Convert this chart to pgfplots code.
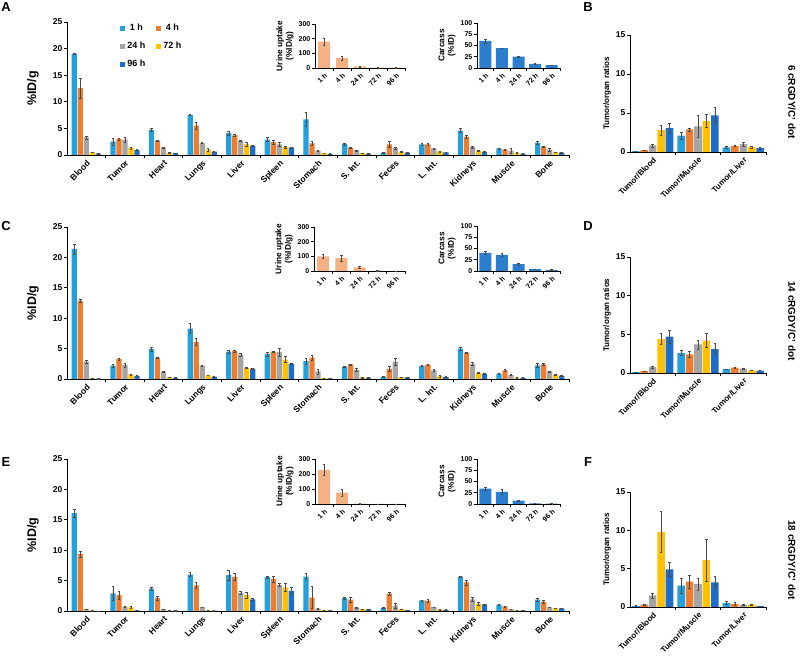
\documentclass[border=0pt]{standalone}
\usepackage{fontspec}
\setmainfont{Liberation Sans}
\usepackage{pgfplots}
\usepackage{pgfplotstable}
\pgfplotsset{compat=1.18}

\definecolor{c1}{RGB}{36,160,220}
\definecolor{c4}{RGB}{237,125,49}
\definecolor{c24}{RGB}{165,165,165}
\definecolor{c72}{RGB}{255,192,0}
\definecolor{c96}{RGB}{30,110,200}
\definecolor{urine}{RGB}{244,177,131}
\definecolor{carc}{RGB}{45,125,205}

\pgfplotstableread{
x t1 e1 t4 e4 t24 e24 t72 e72 t96 e96
0 19.0 0.1 12.6 1.9 3.3 0.3 0.5 0.05 0.25 0.05
1 2.5 0.6 3.0 0.2 2.9 0.5 1.3 0.2 0.9 0.2
2 4.7 0.3 2.7 0.1 1.4 0.1 0.4 0.05 0.35 0.05
3 7.5 0.1 5.5 0.7 2.3 0.1 1.0 0.2 0.65 0.05
4 4.1 0.3 3.7 0.2 2.6 0.1 2.0 0.4 1.7 0.1
5 2.9 0.4 2.4 0.3 2.0 0.4 1.5 0.2 1.4 0.1
6 6.7 1.3 2.2 0.3 0.8 0.1 0.35 0.05 0.2 0.05
7 2.1 0.2 1.3 0.1 0.85 0.1 0.3 0.05 0.2 0.05
8 0.45 0.1 2.0 0.5 1.3 0.2 0.55 0.1 0.45 0.05
9 2.0 0.15 2.0 0.2 1.25 0.1 0.7 0.1 0.5 0.05
10 4.6 0.4 3.45 0.2 1.5 0.15 0.8 0.1 0.6 0.05
11 1.25 0.1 1.05 0.1 0.8 0.4 0.4 0.05 0.25 0.05
12 2.3 0.2 1.55 0.1 1.0 0.2 0.5 0.05 0.45 0.05
}\tabA
\pgfplotstableread{
x t1 e1 t4 e4 t24 e24 t72 e72 t96 e96
0 21.4 0.8 12.9 0.3 2.85 0.3 0.1 0.02 0.05 0.02
1 2.2 0.2 3.3 0.2 2.3 0.3 0.75 0.1 0.5 0.1
2 4.9 0.3 3.45 0.1 1.15 0.1 0.3 0.05 0.2 0.05
3 8.3 0.8 6.1 0.6 2.2 0.1 0.6 0.05 0.4 0.05
4 4.5 0.2 4.6 0.2 4.0 0.3 1.8 0.1 1.7 0.1
5 4.1 0.3 4.5 0.1 4.4 0.6 3.2 0.5 2.5 0.1
6 2.95 0.5 3.5 0.4 1.25 0.4 0.15 0.05 0.1 0.05
7 2.0 0.1 2.4 0.1 1.5 0.2 0.25 0.05 0.2 0.05
8 0.35 0.05 1.65 0.4 2.8 0.6 0.3 0.05 0.25 0.05
9 2.15 0.1 2.35 0.1 1.4 0.2 0.45 0.1 0.35 0.05
10 5.0 0.2 4.35 0.1 2.5 0.2 1.0 0.1 0.9 0.1
11 0.9 0.1 1.4 0.2 0.65 0.1 0.2 0.05 0.2 0.05
12 2.25 0.3 2.4 0.2 1.25 0.1 0.65 0.1 0.5 0.05
}\tabC
\pgfplotstableread{
x t1 e1 t4 e4 t24 e24 t72 e72 t96 e96
0 16.1 0.7 9.35 0.5 0.3 0.05 0.05 0.02 0.03 0.01
1 2.9 1.1 2.6 0.6 0.7 0.1 0.6 0.2 0.1 0.02
2 3.7 0.2 2.1 0.3 0.3 0.05 0.05 0.02 0.05 0.02
3 6.0 0.3 4.2 0.5 0.65 0.05 0.1 0.02 0.05 0.02
4 5.9 0.8 5.6 0.6 3.0 0.2 2.6 0.5 1.9 0.2
5 5.6 0.2 5.3 0.5 4.3 0.2 3.9 0.7 3.3 0.6
6 5.65 0.5 2.2 1.8 0.4 0.05 0.15 0.02 0.1 0.02
7 2.1 0.1 1.85 0.4 0.55 0.05 0.3 0.05 0.25 0.05
8 0.5 0.05 2.85 0.2 0.9 0.4 0.3 0.05 0.15 0.02
9 1.75 0.1 1.7 0.2 0.65 0.05 0.25 0.05 0.2 0.05
10 5.65 0.1 4.7 0.4 1.9 0.3 1.2 0.2 1.1 0.1
11 1.05 0.1 0.75 0.1 0.3 0.05 0.1 0.02 0.1 0.02
12 1.85 0.3 1.55 0.3 0.6 0.05 0.45 0.05 0.45 0.05
}\tabE
\pgfplotstableread{
x t1 e1 t4 e4 t24 e24 t72 e72 t96 e96
0 0.1 0.02 0.25 0.03 0.85 0.2 2.8 0.6 3.1 0.6
1 2.1 0.5 2.9 0.2 3.3 1.4 4.0 0.8 4.7 1.1
2 0.6 0.1 0.8 0.05 1.0 0.2 0.65 0.1 0.5 0.1
}\tabB
\pgfplotstableread{
x t1 e1 t4 e4 t24 e24 t72 e72 t96 e96
0 0.1 0.02 0.25 0.03 0.75 0.15 4.4 0.7 4.7 0.8
1 2.6 0.3 2.4 0.4 3.7 0.6 4.2 0.9 3.1 0.7
2 0.5 0.05 0.7 0.05 0.55 0.05 0.35 0.05 0.3 0.05
}\tabD
\pgfplotstableread{
x t1 e1 t4 e4 t24 e24 t72 e72 t96 e96
0 0.15 0.02 0.3 0.03 1.5 0.3 9.8 2.7 4.9 0.9
1 2.8 1.0 3.3 0.8 3.0 0.8 6.1 2.8 3.2 0.8
2 0.55 0.2 0.4 0.2 0.25 0.05 0.3 0.05 0.1 0.02
}\tabF
\pgfplotstableread{
x y e
0 180 25
1 68 12
2 10 3
3 3 1
4 2 1
}\urA
\pgfplotstableread{
x y e
0 60 4
1 44 1
2 25 1.5
3 9 1
4 6.5 0.5
}\caA
\pgfplotstableread{
x y e
0 100 12
1 88 18
2 25 5
3 2 1
4 1 0.5
}\urC
\pgfplotstableread{
x y e
0 40 3
1 36 3
2 15 2
3 4 0.5
4 2.5 0.5
}\caC
\pgfplotstableread{
x y e
0 228 35
1 75 25
2 3 1
3 1 0.5
4 1 0.5
}\urE
\pgfplotstableread{
x y e
0 34 3
1 27 6
2 7.5 1
3 1.5 0.3
4 1 0.3
}\caE

\pgfplotsset{
  common/.style={scale only axis, anchor=south west, axis lines*=left,
    axis line style={-,line width=0.8pt}, tick align=outside,
    major tick length=3pt, minor tick length=3.5pt,
    tick style={black,line width=0.8pt}, major x tick style={draw=none},
    minor x tick num=1, ymin=0,
    /pgf/number format/assume math mode=true,
    yticklabel style={font=\bfseries\fontsize{8.5}{10}\selectfont, inner sep=1.5pt},
    xticklabel style={rotate=45, anchor=north east, inner sep=1pt},
    ylabel style={font=\bfseries\fontsize{8.3}{9.5}\selectfont, align=center},
    extra x tick labels={},
    extra x tick style={major x tick style={draw=black,line width=0.8pt}, major tick length=3.5pt},
    clip=false},
  eb/.style={error bars/.cd, y dir=both, y explicit,
    error bar style={line width=0.4pt, black!70},
    error mark options={rotate=90, mark size=1.3pt, line width=0.4pt, black!70}},
  mainax/.style={common, width=502pt, xmin=-0.5, xmax=12.5, ymax=25, ytick={0,5,...,25},
    xtick={0,1,...,12}, extra x ticks={12.5},
    xticklabels={Blood,Tumor,Heart,Lungs,Liver,Spleen,Stomach,S. Int.,Feces,L. Int.,Kidneys,Muscle,Bone},
    xticklabel style={font=\bfseries\fontsize{8.5}{10}\selectfont},
    ybar=0.7pt, bar width=5.3pt, ylabel={\%ID/g},
    ylabel style={font=\bfseries\fontsize{12.5}{15}\selectfont, at={(axis description cs:-0.068,0.5)}, anchor=center}},
  insetax/.style={common, xmin=-0.5, xmax=4.5,
    xtick={0,1,...,4}, xticklabels={1 h,4 h,24 h,72 h,96 h}, extra x ticks={4.5},
    xticklabel style={font=\bfseries\fontsize{7}{8}\selectfont},
    yticklabel style={font=\bfseries\fontsize{7}{8}\selectfont},
    ybar=0pt, bar width=12pt},
  ratioax/.style={common, width=136pt, xmin=-0.5, xmax=2.5, ymax=15, ytick={0,5,10,15},
    xtick={0,1,2}, xticklabels={Tumor/Blood,Tumor/Muscle,Tumor/Liver}, extra x ticks={2.5},
    xticklabel style={font=\bfseries\fontsize{8}{9}\selectfont},
    ybar=0.8pt, bar width=7.6pt, ylabel={Tumor/organ ratios},
    ylabel style={font=\bfseries\fontsize{8}{9.5}\selectfont}},
}
\newcommand\five[1]{%
  \addplot[fill=c1,draw=none,eb] table[x=x,y=t1,y error=e1]{#1};
  \addplot[fill=c4,draw=none,eb] table[x=x,y=t4,y error=e4]{#1};
  \addplot[fill=c24,draw=none,eb] table[x=x,y=t24,y error=e24]{#1};
  \addplot[fill=c72,draw=none,eb] table[x=x,y=t72,y error=e72]{#1};
  \addplot[fill=c96,draw=none,eb] table[x=x,y=t96,y error=e96]{#1};
}

\begin{document}
\begin{tikzpicture}
\useasboundingbox (0pt,0pt) rectangle (800pt,663pt);

% ---------- Row A/B ----------
\begin{axis}[mainax, at={(67pt,508pt)}, height=133pt,
  legend style={at={(axis description cs:0.1,1.015)}, anchor=north west, draw=none, fill=none,
    font=\bfseries\fontsize{9}{10}\selectfont, legend columns=2, row sep=6pt,
    /tikz/every even column/.append style={column sep=9pt}},
  legend image code/.code={\fill[#1,draw=none] (0pt,-2.5pt) rectangle (5pt,2.5pt);}]
\five{\tabA}
\legend{1 h,4 h,24 h,72 h,96 h}
\end{axis}
\begin{axis}[insetax, at={(315pt,595pt)}, width=90pt, height=44pt, ymax=300, ytick={0,100,200,300},
  ylabel={Urine uptake\\(\%ID/g)}]
\addplot[fill=urine,draw=none,eb] table[x=x,y=y,y error=e]{\urA};
\end{axis}
\begin{axis}[insetax, at={(477pt,595pt)}, width=83pt, height=45pt, ymax=100, ytick={0,25,50,75,100},
  ylabel={Carcass\\(\%ID)}]
\addplot[fill=carc,draw=none,eb] table[x=x,y=y,y error=e]{\caA};
\end{axis}
\begin{axis}[ratioax, at={(630pt,511pt)}, height=117pt]
\five{\tabB}
\end{axis}

% ---------- Row C/D ----------
\begin{axis}[mainax, at={(67pt,284pt)}, height=152pt]
\five{\tabC}
\end{axis}
\begin{axis}[insetax, at={(314pt,392pt)}, width=91pt, height=44pt, ymax=300, ytick={0,100,200,300},
  ylabel={Urine uptake\\(\%ID/g)}]
\addplot[fill=urine,draw=none,eb] table[x=x,y=y,y error=e]{\urC};
\end{axis}
\begin{axis}[insetax, at={(477pt,392pt)}, width=83pt, height=45pt, ymax=100, ytick={0,25,50,75,100},
  ylabel={Carcass\\(\%ID)}]
\addplot[fill=carc,draw=none,eb] table[x=x,y=y,y error=e]{\caC};
\end{axis}
\begin{axis}[ratioax, at={(630pt,290pt)}, height=116pt]
\five{\tabD}
\end{axis}

% ---------- Row E/F ----------
\begin{axis}[mainax, at={(67pt,52pt)}, height=152pt]
\five{\tabE}
\end{axis}
\begin{axis}[insetax, at={(315pt,159pt)}, width=90pt, height=45pt, ymax=300, ytick={0,100,200,300},
  ylabel={Urine uptake\\(\%ID/g)}]
\addplot[fill=urine,draw=none,eb] table[x=x,y=y,y error=e]{\urE};
\end{axis}
\begin{axis}[insetax, at={(477pt,159pt)}, width=83pt, height=45pt, ymax=100, ytick={0,25,50,75,100},
  ylabel={Carcass\\(\%ID)}]
\addplot[fill=carc,draw=none,eb] table[x=x,y=y,y error=e]{\caE};
\end{axis}
\begin{axis}[ratioax, at={(630pt,56pt)}, height=115pt]
\five{\tabF}
\end{axis}

% panel letters and side labels
\begin{scope}[every node/.style={font=\bfseries\fontsize{13}{15}\selectfont}]
\node at (6pt,656pt) {A};
\node at (588pt,656pt) {B};
\node at (6pt,437pt) {C};
\node at (588pt,437pt) {D};
\node at (6pt,201pt) {E};
\node at (588pt,201pt) {F};
\end{scope}
\begin{scope}[every node/.style={rotate=-90, font=\bfseries\fontsize{10}{12}\selectfont}]
\node at (792pt,561pt) {6 cRGDY/C’ dot};
\node at (792pt,342pt) {14 cRGDY/C’ dot};
\node at (792pt,103pt) {18 cRGDY/C’ dot};
\end{scope}
\end{tikzpicture}
\end{document}
